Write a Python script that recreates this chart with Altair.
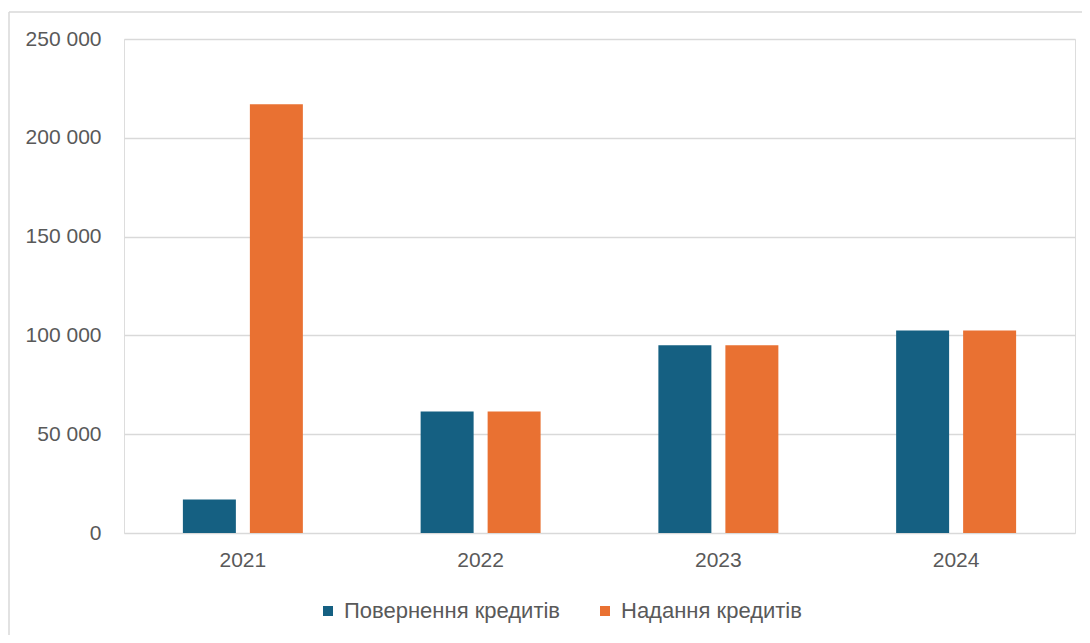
import altair as alt
import pandas as pd

years = ["2021", "2022", "2023", "2024"]
series = ["Повернення кредитів", "Надання кредитів"]
repaid = [17000, 61500, 95000, 102500]
issued = [217000, 61500, 95000, 102500]
colors = ["#156082", "#E97132"]
y_ticks = [0, 50000, 100000, 150000, 200000, 250000]

rows = []
for i, yr in enumerate(years):
    rows.append({"year": yr, "series": series[0], "value": repaid[i]})
    rows.append({"year": yr, "series": series[1], "value": issued[i]})
df = pd.DataFrame(rows)

FONT = "Liberation Sans"
TXT = "#595959"
GRID = "#d9d9d9"
FS = 21

bars = alt.Chart(df).mark_bar().encode(
    x=alt.X("year:N", sort=years, title=None,
            scale=alt.Scale(paddingInner=0, paddingOuter=0),
            axis=alt.Axis(labelAngle=0, labelFont=FONT, labelFontSize=FS,
                          labelColor=TXT, domain=False, ticks=False,
                          labelPadding=16, grid=False)),
    xOffset=alt.XOffset("series:N", sort=series,
                        scale=alt.Scale(paddingInner=0.209, paddingOuter=0.879)),
    y=alt.Y("value:Q", title=None,
            scale=alt.Scale(domain=[0, 250000], nice=False),
            axis=alt.Axis(values=y_ticks, labelFont=FONT, labelFontSize=FS,
                          labelColor=TXT, domain=False, ticks=False,
                          labelPadding=23, gridColor=GRID, gridWidth=1.4,
                          labelExpr="datum.value == 0 ? '0' : floor(datum.value / 1000) + ' 000'")),
    color=alt.Color("series:N", sort=series,
                    scale=alt.Scale(domain=series, range=colors),
                    legend=alt.Legend(title=None, orient="none", direction="horizontal",
                                      legendX=193, legendY=561,
                                      symbolType="square", symbolSize=100,
                                      symbolStrokeWidth=0, labelFont=FONT,
                                      labelFontSize=22, labelColor=TXT,
                                      labelLimit=500,
                                      labelOffset=5, columnPadding=33)),
)

left_edge = alt.Chart().mark_rule(stroke=GRID, strokeWidth=1.5, clip=False).encode(
    x=alt.value(-115), y=alt.value(-27), y2=alt.value(3000)
)
top_edge = alt.Chart().mark_rule(stroke=GRID, strokeWidth=1.5, clip=False).encode(
    y=alt.value(-27), x=alt.value(-115), x2=alt.value(3000)
)

chart = alt.layer(left_edge, top_edge, bars).properties(
    width=951, height=494,
    autosize=alt.AutoSizeParams(type="none"),
    padding={"left": 116, "top": 31, "right": 7, "bottom": 102},
).configure_view(stroke=None).configure(background="white")

chart.save("out.html", embed_options={"renderer": "svg", "actions": False})
